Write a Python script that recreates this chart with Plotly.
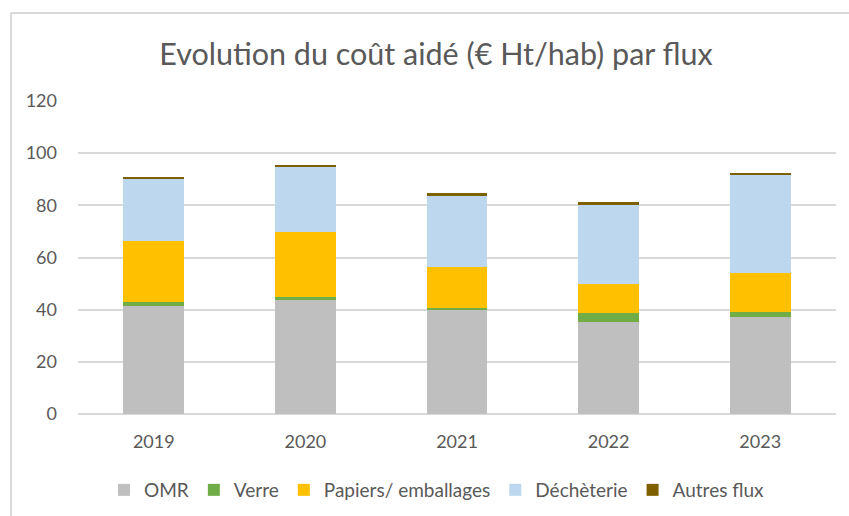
import plotly.graph_objects as go

years = ["2019", "2020", "2021", "2022", "2023"]
omr = [41.5, 43.6, 39.8, 35.4, 37.1]
verre = [1.3, 1.4, 1.0, 3.4, 2.1]
papiers = [23.5, 24.9, 15.6, 11.0, 14.9]
decheterie = [24.1, 24.7, 27.3, 30.5, 37.4]
autres = [0.5, 0.8, 0.9, 0.9, 0.9]

series = [
    ("OMR", omr, "#BFBFBF"),
    ("Verre", verre, "#70AD47"),
    ("Papiers/ emballages", papiers, "#FFC000"),
    ("Déchèterie", decheterie, "#BDD7EE"),
    ("Autres flux", autres, "#7F6000"),
]

FONT = "Lato"
GREY = "#595959"

fig = go.Figure()
for name, vals, col in series:
    fig.add_trace(go.Bar(x=years, y=vals, name=name,
                         marker=dict(color=col, line=dict(width=0))))

W, H = 849, 516
L, R, T, B = 78, 13, 101, 102
pw, ph = W - L - R, H - T - B

def px_x(p):
    return (p - L) / pw

def px_y(p):
    return (H - B - p) / ph

fig.update_layout(
    width=W, height=H,
    margin=dict(l=L, r=R, t=T, b=B, autoexpand=False),
    barmode="stack", bargap=0.6,
    plot_bgcolor="white", paper_bgcolor="white",
    font=dict(family=FONT, color=GREY, size=18),
    showlegend=True,
    title=dict(text="Evolution du coût aidé (€ Ht/hab) par flux",
               xref="container", yref="container",
               x=436 / W, y=1 - 54 / H, xanchor="center", yanchor="middle",
               font=dict(size=30.5, color=GREY, family=FONT)),
    legend=dict(orientation="h", xref="container", yref="container",
                x=437 / W, xanchor="center",
                y=1 - 490 / H, yanchor="middle",
                font=dict(size=19, color=GREY), traceorder="normal"),
    shapes=[
        dict(type="line", xref="paper", yref="paper",
             x0=px_x(11), x1=px_x(11), y0=px_y(13), y1=px_y(530),
             line=dict(color="#D9D9D9", width=2), layer="below"),
        dict(type="line", xref="paper", yref="paper",
             x0=px_x(11), x1=px_x(860), y0=px_y(13), y1=px_y(13),
             line=dict(color="#D9D9D9", width=2), layer="below"),
    ],
)
fig.update_yaxes(range=[0, 120], tickvals=[0, 20, 40, 60, 80, 100, 120],
                 showgrid=True, gridcolor="#D9D9D9", gridwidth=1.5,
                 zeroline=True, zerolinecolor="#D9D9D9", zerolinewidth=1.5,
                 showline=False, ticks="", ticklabelstandoff=20, automargin=False,
                 tickfont=dict(size=18, color=GREY))
fig.update_xaxes(showgrid=False, showline=False, ticks="", automargin=False,
                 ticklabelstandoff=15, tickfont=dict(size=18, color=GREY))

fig.write_html("out.html", config={"displayModeBar": False},
               post_script="document.body.style.margin='0';document.body.style.padding='0';")
